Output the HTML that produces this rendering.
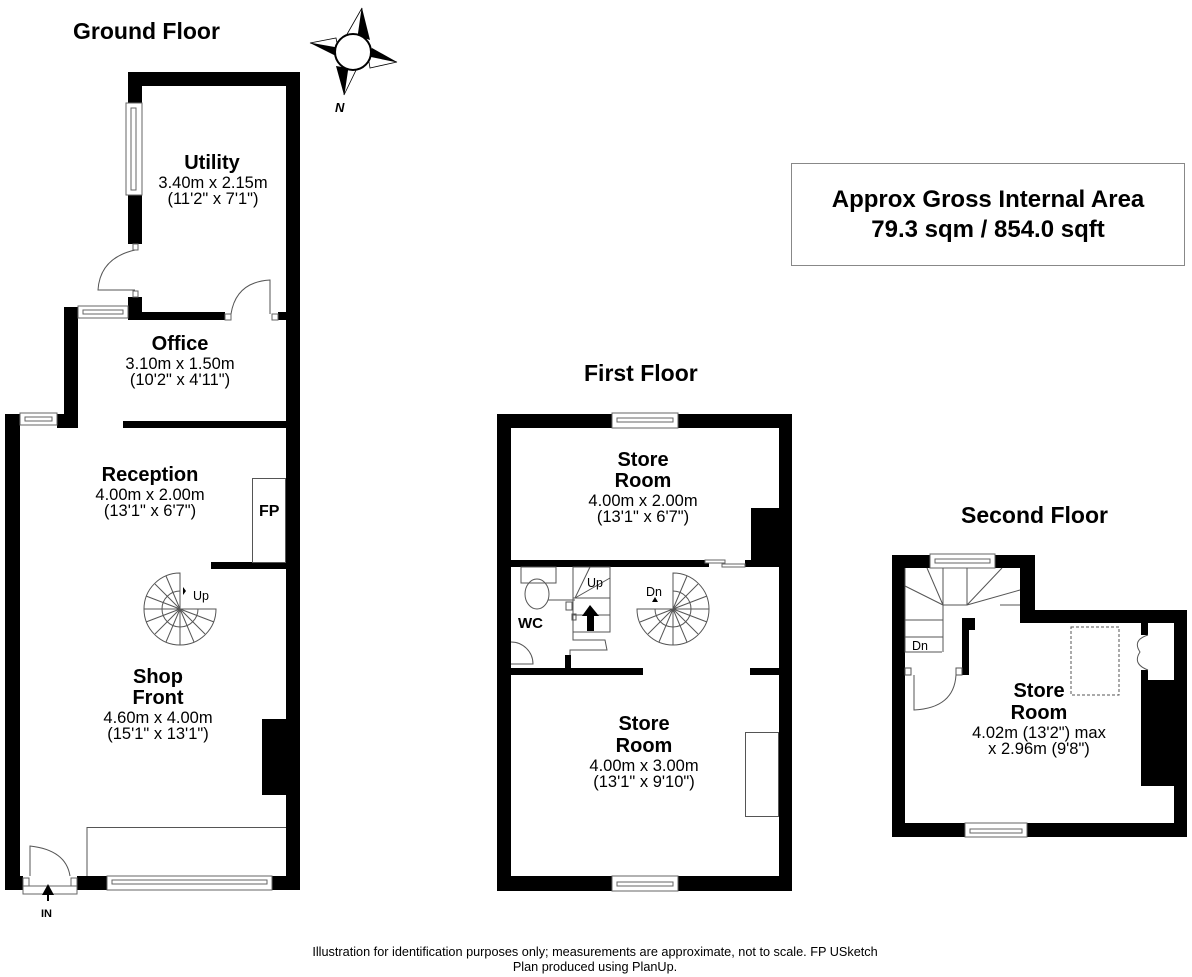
<!DOCTYPE html>
<html><head><meta charset="utf-8"><style>
html,body{margin:0;padding:0;background:#fff;}
svg{display:block;}
text{font-family:"Liberation Sans",Arial,sans-serif;fill:#000;}
.t{font-weight:bold;font-size:23px;}
.r{font-weight:bold;font-size:20px;text-anchor:middle;}
.d{font-size:16.5px;text-anchor:middle;}
.s{font-size:12.5px;}
.ln{fill:none;stroke:#555;stroke-width:1;}
.win{fill:#fff;stroke:#666;stroke-width:1;}
</style></head><body>
<svg width="1192" height="977" viewBox="0 0 1192 977" xmlns="http://www.w3.org/2000/svg">
<text class="t" x="73" y="39">Ground Floor</text>
<text class="t" x="584" y="381">First Floor</text>
<text class="t" x="961" y="523">Second Floor</text>

<g>
<polygon points="362,8 358,36 370,40" fill="#000"/>
<polygon points="362,8 346,36 358,36" fill="#fff" stroke="#000" stroke-width="0.8"/>
<polygon points="310,43 336,38 338,48" fill="#fff" stroke="#000" stroke-width="0.8"/>
<polygon points="310,43 338,48 336,56" fill="#000"/>
<polygon points="397,62 368,56 370,68" fill="#fff" stroke="#000" stroke-width="0.8"/>
<polygon points="397,62 368,56 372,48" fill="#000"/>
<polygon points="344,95 336,66 348,68" fill="#000"/>
<polygon points="344,95 348,68 358,66" fill="#fff" stroke="#000" stroke-width="0.8"/>
<circle cx="353" cy="52" r="18" fill="#fff" stroke="#000" stroke-width="2"/>
<text x="335" y="112" style="font-weight:bold;font-size:13px;font-style:italic">N</text>
</g>

<rect x="791.5" y="163.5" width="393" height="102" fill="#fff" stroke="#888" stroke-width="1"/>
<text class="r" x="988" y="207" style="font-size:24px">Approx Gross Internal Area</text>
<text class="r" x="988" y="237" style="font-size:24px">79.3 sqm / 854.0 sqft</text>

<!-- GROUND FLOOR -->
<g fill="#000">
<rect x="128" y="72" width="172" height="14"/>
<rect x="286" y="72" width="14" height="818"/>
<rect x="128" y="72" width="14" height="31"/>
<rect x="128" y="195" width="14" height="49"/>
<rect x="128" y="297" width="14" height="23"/>
<rect x="128" y="312" width="97" height="8"/>
<rect x="278" y="312" width="8" height="8"/>
<rect x="64" y="307" width="14" height="121"/>
<rect x="57" y="414" width="21" height="14"/>
<rect x="5" y="414" width="15" height="476"/>
<rect x="123" y="421" width="163" height="7"/>
<rect x="211" y="562" width="75" height="7"/>
<rect x="262" y="719" width="24" height="76"/>
<rect x="5" y="876" width="18" height="14"/>
<rect x="77" y="876" width="30" height="14"/>
<rect x="272" y="876" width="28" height="14"/>
</g>
<rect class="win" x="126" y="103" width="16" height="92"/>
<rect class="win" x="131" y="108" width="5" height="82"/>
<rect class="win" x="78" y="306" width="50" height="12"/>
<rect class="win" x="83" y="310" width="40" height="4"/>
<rect class="win" x="20" y="413" width="37" height="12"/>
<rect class="win" x="25" y="417" width="27" height="4"/>
<rect class="win" x="107" y="876" width="165" height="14"/>
<rect class="win" x="112" y="880" width="155" height="4"/>
<rect class="win" x="133" y="244" width="5" height="6"/>
<rect class="win" x="133" y="291" width="5" height="6"/>
<path class="ln" d="M135,250 Q100,258 98,290 L135,290"/>
<rect class="win" x="225" y="314" width="6" height="6"/>
<rect class="win" x="272" y="314" width="6" height="6"/>
<path class="ln" d="M231,314 Q236,282 270,280 L270,314"/>
<rect class="win" x="23" y="878" width="6" height="10"/>
<rect class="win" x="71" y="878" width="6" height="10"/>
<path class="ln" d="M30,876 L30,846 Q66,850 70,876"/>
<rect class="win" x="23" y="886" width="54" height="8"/>
<polygon points="48,884 42,895 54,895" fill="#000"/>
<rect x="47" y="894" width="2" height="7" fill="#000"/>
<text x="41" y="917" style="font-weight:bold;font-size:11px">IN</text>
<rect class="ln" x="252.5" y="478.5" width="33" height="84"/>
<text x="259" y="516" style="font-weight:bold;font-size:16px">FP</text>
<path class="ln" d="M87,876 L87,827.5 L286,827.5"/>
<g class="ln" stroke="#666">
<path d="M180,573 A36,36 0 1 0 216,609 L180,609 Z"/>
<path d="M180,591 A18,18 0 1 0 198,609"/>
<line x1="180" y1="609" x2="180" y2="645"/>
<line x1="180" y1="609" x2="144" y2="609"/>
<line x1="180" y1="609" x2="155" y2="584"/>
<line x1="180" y1="609" x2="155" y2="634"/>
<line x1="180" y1="609" x2="166" y2="576"/>
<line x1="180" y1="609" x2="146" y2="596"/>
<line x1="180" y1="609" x2="146" y2="622"/>
<line x1="180" y1="609" x2="166" y2="642"/>
<line x1="180" y1="609" x2="194" y2="642"/>
<line x1="180" y1="609" x2="205" y2="634"/>
<line x1="180" y1="609" x2="214" y2="622"/>
</g>
<polygon points="186,591 183,587 183,595" fill="#000"/>
<text class="s" x="193" y="600">Up</text>
<text class="r" x="212" y="169">Utility</text>
<text class="d" x="213" y="188">3.40m x 2.15m</text>
<text class="d" x="213" y="204">(11'2" x 7'1")</text>
<text class="r" x="180" y="350">Office</text>
<text class="d" x="180" y="369">3.10m x 1.50m</text>
<text class="d" x="180" y="385">(10'2" x 4'11")</text>
<text class="r" x="150" y="481">Reception</text>
<text class="d" x="150" y="500">4.00m x 2.00m</text>
<text class="d" x="150" y="516">(13'1" x 6'7")</text>
<text class="r" x="158" y="683">Shop</text>
<text class="r" x="158" y="704">Front</text>
<text class="d" x="158" y="723">4.60m x 4.00m</text>
<text class="d" x="158" y="739">(15'1" x 13'1")</text>

<!-- FIRST FLOOR -->
<g fill="#000">
<rect x="497" y="414" width="295" height="14"/>
<rect x="497" y="414" width="14" height="477"/>
<rect x="779" y="414" width="13" height="477"/>
<rect x="497" y="876" width="295" height="15"/>
<rect x="511" y="560" width="198" height="7"/>
<rect x="745" y="560" width="34" height="7"/>
<rect x="751" y="508" width="28" height="59"/>
<rect x="511" y="668" width="132" height="7"/>
<rect x="750" y="668" width="29" height="7"/>
<rect x="565" y="655" width="6" height="13"/>
</g>
<rect class="win" x="612" y="413" width="66" height="15"/>
<rect class="win" x="617" y="418" width="56" height="4"/>
<rect class="win" x="612" y="876" width="66" height="15"/>
<rect class="win" x="617" y="882" width="56" height="4"/>
<rect class="win" x="705" y="560" width="20" height="3"/>
<rect class="win" x="722" y="564" width="23" height="3"/>
<rect class="ln" x="745.5" y="732.5" width="33" height="84"/>
<rect class="ln" x="521" y="567" width="35" height="16"/>
<ellipse class="ln" cx="537" cy="594" rx="12" ry="15"/>
<path class="ln" d="M511,642 A22,22 0 0 1 533,664 L511,664"/>
<text x="518" y="628" style="font-weight:bold;font-size:15px">WC</text>
<g class="ln">
<rect x="573" y="567" width="37" height="65"/>
<path d="M573,632 L573,640 L605,640 L607,650 L570,650 L570,655"/>
<line x1="575" y1="598" x2="610" y2="578"/>
<line x1="575" y1="598" x2="590" y2="567"/>
<line x1="573" y1="598" x2="610" y2="598"/>
<line x1="573" y1="615" x2="610" y2="615"/>
<line x1="548" y1="600" x2="575" y2="600"/>
<rect x="566" y="602" width="6" height="8"/>
<rect x="572" y="614" width="4" height="6"/>
</g>
<polygon points="590,605 582,616 587,616 587,631 594,631 594,616 599,616" fill="#000"/>
<text class="s" x="587" y="587">Up</text>
<g class="ln" stroke="#666">
<path d="M673,573 A36,36 0 1 1 637,609 L673,609 Z"/>
<path d="M655,609 A18,18 0 1 0 673,591"/>
<line x1="673" y1="609" x2="673" y2="645"/>
<line x1="673" y1="609" x2="709" y2="609"/>
<line x1="673" y1="609" x2="698" y2="584"/>
<line x1="673" y1="609" x2="698" y2="634"/>
<line x1="673" y1="609" x2="648" y2="634"/>
<line x1="673" y1="609" x2="687" y2="576"/>
<line x1="673" y1="609" x2="707" y2="596"/>
<line x1="673" y1="609" x2="707" y2="622"/>
<line x1="673" y1="609" x2="687" y2="642"/>
<line x1="673" y1="609" x2="659" y2="642"/>
<line x1="673" y1="609" x2="640" y2="622"/>
</g>
<polygon points="655,597 652,602 658,602" fill="#000"/>
<text class="s" x="646" y="596">Dn</text>
<text class="r" x="643" y="466">Store</text>
<text class="r" x="643" y="487">Room</text>
<text class="d" x="643" y="506">4.00m x 2.00m</text>
<text class="d" x="643" y="522">(13'1" x 6'7")</text>
<text class="r" x="644" y="730">Store</text>
<text class="r" x="644" y="752">Room</text>
<text class="d" x="644" y="771">4.00m x 3.00m</text>
<text class="d" x="644" y="787">(13'1" x 9'10")</text>

<!-- SECOND FLOOR -->
<g fill="#000">
<rect x="892" y="555" width="143" height="13"/>
<rect x="892" y="555" width="13" height="282"/>
<rect x="1020" y="555" width="15" height="68"/>
<rect x="1020" y="610" width="167" height="13"/>
<rect x="1174" y="610" width="13" height="227"/>
<rect x="892" y="823" width="295" height="14"/>
<rect x="962" y="618" width="13" height="12"/>
<rect x="962" y="618" width="7" height="57"/>
<rect x="1141" y="680" width="33" height="106"/>
<rect x="1141" y="670" width="7" height="10"/>
<rect x="1141" y="623" width="7" height="12"/>
</g>
<rect class="win" x="930" y="554" width="65" height="14"/>
<rect class="win" x="935" y="559" width="55" height="4"/>
<rect class="win" x="965" y="823" width="62" height="14"/>
<rect class="win" x="970" y="829" width="52" height="4"/>
<g class="ln">
<path d="M905,568 L905,652 L942,652"/>
<line x1="905" y1="586" x2="943" y2="605"/>
<line x1="927" y1="568" x2="943" y2="605"/>
<line x1="943" y1="568" x2="943" y2="605"/>
<line x1="967" y1="568" x2="967" y2="605"/>
<line x1="1002" y1="568" x2="967" y2="605"/>
<line x1="1020" y1="590" x2="967" y2="605"/>
<line x1="1000" y1="605" x2="1020" y2="605"/>
<line x1="943" y1="605" x2="967" y2="605"/>
<line x1="943" y1="605" x2="943" y2="652"/>
<line x1="905" y1="620" x2="943" y2="620"/>
<line x1="905" y1="637" x2="943" y2="637"/>
<rect x="905" y="668" width="6" height="7"/>
<rect x="956" y="668" width="6" height="7"/>
<path d="M956,675 Q954,708 914,710 L914,675"/>
<rect x="1071" y="627" width="48" height="68" stroke-dasharray="3,2"/>
<path d="M1148,635 Q1132,640 1140,652 Q1132,664 1148,670"/>
</g>
<text class="s" x="912" y="650">Dn</text>
<text class="r" x="1039" y="697">Store</text>
<text class="r" x="1039" y="719">Room</text>
<text class="d" x="1039" y="738">4.02m (13'2") max</text>
<text class="d" x="1039" y="754">x 2.96m (9'8")</text>

<text x="595" y="956" style="font-size:12.7px;text-anchor:middle">Illustration for identification purposes only; measurements are approximate, not to scale. FP USketch</text>
<text x="595" y="971" style="font-size:12.7px;text-anchor:middle">Plan produced using PlanUp.</text>
</svg>
</body></html>
